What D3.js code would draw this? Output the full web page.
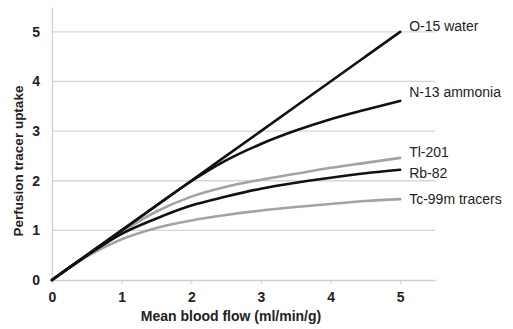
<!DOCTYPE html>
<html>
<head>
<meta charset="utf-8">
<script src="https://cdn.jsdelivr.net/npm/d3@7"></script>
<style>
  body { margin: 0; background: #fff; }
  text { font-family: "Liberation Sans", Arial, sans-serif; }
</style>
</head>
<body>
<div id="chart"></div>
<script>
// blood flow values (ml/min/g)
var flow = [0, 0.5, 1, 1.5, 2, 2.5, 3, 3.5, 4, 4.5, 5];
// tracer uptake
var o15 = [0, 0.5, 1, 1.5, 2, 2.5, 3, 3.5, 4, 4.5, 5];
var n13 = [0, 0.5, 1.0, 1.5, 1.99, 2.41, 2.74, 3.01, 3.24, 3.43, 3.61];
var tl201 = [0, 0.5, 0.97, 1.38, 1.68, 1.88, 2.02, 2.14, 2.26, 2.36, 2.46];
var rb82 = [0, 0.49, 0.93, 1.24, 1.5, 1.68, 1.84, 1.96, 2.06, 2.15, 2.22];
var tc99m = [0, 0.47, 0.82, 1.05, 1.2, 1.31, 1.4, 1.47, 1.53, 1.59, 1.63];
var names = ["O-15 water", "N-13 ammonia", "Tl-201", "Rb-82", "Tc-99m tracers"];
var xTicks = [0, 1, 2, 3, 4, 5];
var yTicks = [0, 1, 2, 3, 4, 5];

var series = [
  { name: names[0], values: o15, color: "#111", labelShift: -6 },
  { name: names[1], values: n13, color: "#111", labelShift: -9 },
  { name: names[2], values: tl201, color: "#a3a3a3", labelShift: -6 },
  { name: names[3], values: rb82, color: "#111", labelShift: 3 },
  { name: names[4], values: tc99m, color: "#a3a3a3", labelShift: 0 }
];

var width = 513, height = 329;
var margin = { top: 7, right: 78, bottom: 49, left: 52 };

var svg = d3.select("#chart")
  .append("svg")
  .attr("width", width)
  .attr("height", height);

var x = d3.scaleLinear()
  .domain([0, 5.5])
  .range([margin.left, width - margin.right]);
var y = d3.scaleLinear()
  .domain([0, 5.5])
  .range([height - margin.bottom, margin.top]);

// gridlines
svg.append("g")
  .selectAll("line")
  .data(yTicks.slice(1))
  .enter()
  .append("line")
    .attr("x1", x(0))
    .attr("x2", x(5.5))
    .attr("y1", function(d){ return y(d); })
    .attr("y2", function(d){ return y(d); })
    .style("stroke", "#d6d6d6")
    .style("stroke-width", 1.3);

// y axis
var yAxis = svg.append("g")
  .attr("transform", "translate(" + x(0) + ",0)")
  .call(d3.axisLeft(y).tickValues(yTicks).tickFormat(d3.format("d")).tickSize(0).tickPadding(12));
yAxis.select(".domain").style("stroke", "#cfcfcf").style("stroke-width", 1.3);

// x axis
var xAxis = svg.append("g")
  .attr("transform", "translate(0," + y(0) + ")")
  .call(d3.axisBottom(x).tickValues(xTicks).tickFormat(d3.format("d")).tickSize(4).tickSizeOuter(0).tickPadding(8));
xAxis.select(".domain").style("stroke", "#cfcfcf").style("stroke-width", 1.3);
xAxis.selectAll(".tick line").style("stroke", "#cfcfcf");

svg.selectAll(".tick text")
  .style("font-family", "'Liberation Sans', Arial, sans-serif")
  .style("font-size", "14px")
  .style("font-weight", "bold")
  .style("fill", "#222");

// lines
var line = d3.line()
  .x(function(d, i){ return x(flow[i]); })
  .y(function(d){ return y(d); })
  .curve(d3.curveMonotoneX);

// gray curves first, black on top
var order = [series[2], series[4], series[0], series[1], series[3]];
svg.selectAll(".curve")
  .data(order)
  .enter()
  .append("path")
    .attr("class", "curve")
    .attr("d", function(d){ return line(d.values); })
    .style("fill", "none")
    .style("stroke", function(d){ return d.color; })
    .style("stroke-width", 2.6)
    .style("stroke-linecap", "round");

// series labels
svg.selectAll(".lbl")
  .data(series)
  .enter()
  .append("text")
    .attr("class", "lbl")
    .attr("x", x(5) + 9)
    .attr("y", function(d){ return y(d.values[d.values.length - 1]) + d.labelShift; })
    .attr("dy", "0.35em")
    .style("font-size", "14px")
    .style("fill", "#222")
    .text(function(d){ return d.name; });

// axis titles
svg.append("text")
  .attr("x", 231)
  .attr("y", 321)
  .style("text-anchor", "middle")
  .style("font-size", "14px")
  .style("font-weight", "bold")
  .style("fill", "#222")
  .text("Mean blood flow (ml/min/g)");

svg.append("text")
  .attr("transform", "translate(23," + 161 + ") rotate(-90)")
  .style("text-anchor", "middle")
  .style("font-size", "13.5px")
  .style("font-weight", "bold")
  .style("fill", "#222")
  .text("Perfusion tracer uptake");
</script>
</body>
</html>
